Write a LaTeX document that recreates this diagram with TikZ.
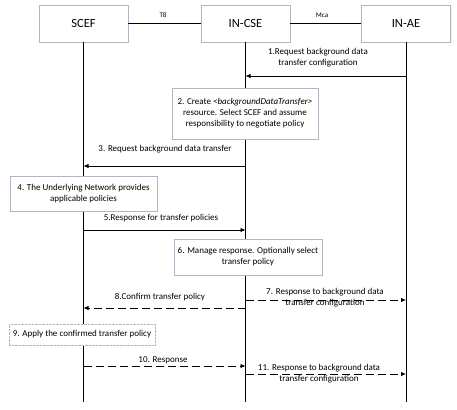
\documentclass[tikz,border=0pt]{standalone}
\usepackage{fontspec}
\setmainfont{Carlito}
\usetikzlibrary{arrows.meta,shadows}
\definecolor{boxgray}{RGB}{175,184,194}
\newcommand{\msgfont}{\fontsize{9}{11}\selectfont}
\tikzset{
	entity/.style={draw=boxgray, fill=white, minimum width=89pt, minimum height=37pt, inner sep=0pt,
		font=\fontsize{12.5}{14}\selectfont, drop shadow={opacity=.12, shadow xshift=1pt, shadow yshift=-1pt}},
	note/.style={draw=boxgray, fill=white, align=center, inner sep=0pt, font=\msgfont,
		drop shadow={opacity=.12, shadow xshift=1pt, shadow yshift=-1pt}},
	lbl/.style={align=center, inner sep=0pt, font=\msgfont},
	msg/.style={-{Latex[length=5pt,width=4.5pt]}, line width=.8pt},
	reply/.style={msg, dash pattern=on 8pt off 4pt}
}
\begin{document}
\begin{tikzpicture}[x=1pt, y=-1pt]
			\useasboundingbox (0,0) rectangle (457,409);

			% header
			\node[entity] (scef) at(83.5, 23.5){SCEF};
			\node[entity] (incse) at(245.5, 23.5){IN-CSE};
			\node[entity] (inae) at(406, 23.5){IN-AE};
				\draw[line width=.8pt] (scef) to (incse);
				\draw[line width=.8pt] (incse) to (inae);
					\node[lbl, font=\fontsize{7}{8}\selectfont] (t8) at(163, 15){T8};
					\node[lbl, font=\fontsize{7}{8}\selectfont] (mca) at(322, 15){Mca};

			% lifelines
			\coordinate (scefend) at(83.5, 402);
			\coordinate (incseend) at(245.5, 402);
			\coordinate (inaeend) at(406, 402);
			\draw[line width=.8pt] (scef) to (scefend);
			\draw[line width=.8pt] (incse) to (incseend);
			\draw[line width=.8pt] (inae) to (inaeend);

			% 1
			\coordinate (m1a) at(406, 76);
			\coordinate (m1b) at(245.5, 76);
				\node[lbl] (l1) at(318, 57.5){1.Request background data\\transfer configuration};
				\draw[msg] (m1a) to (m1b);
			% 2
			\node[note, minimum width=146pt, minimum height=51pt] (n2) at(245, 113.5)
				{2. Create \textit{<backgroundDataTransfer>}\\resource. Select SCEF and assume\\responsibility to negotiate policy};
			% 3
			\coordinate (m3a) at(245.5, 166);
			\coordinate (m3b) at(83.5, 166);
				\node[lbl] (l3) at(165, 149){3. Request background data transfer};
				\draw[msg] (m3a) to (m3b);
			% 4
			\node[note, minimum width=147pt, minimum height=35pt] (n4) at(83.5, 193.5)
				{4. The Underlying Network provides\\applicable policies};
			% 5
			\coordinate (m5a) at(83.5, 230);
			\coordinate (m5b) at(245.5, 230);
				\node[lbl] (l5) at(161, 218){5.Response for transfer policies};
				\draw[msg] (m5a) to (m5b);
			% 6
			\node[note, minimum width=148pt, minimum height=36pt] (n6) at(248, 257)
				{6. Manage response. Optionally select\\transfer policy};
			% 7
			\coordinate (m7a) at(245.5, 300);
			\coordinate (m7b) at(406, 300);
				\node[lbl] (l7) at(325, 298){7. Response to background data\\transfer configuration};
				\draw[reply] (m7a) to (m7b);
			% 8
			\coordinate (m8a) at(245.5, 308);
			\coordinate (m8b) at(83.5, 308);
				\node[lbl] (l8) at(160, 297){8.Confirm transfer policy};
				\draw[reply] (m8a) to (m8b);
			% 9
			\node[note, densely dotted, minimum width=146pt, minimum height=21pt] (n9) at(82, 334.5)
				{9. Apply the confirmed transfer policy};
			% 10
			\coordinate (m10a) at(83.5, 366);
			\coordinate (m10b) at(245.5, 366);
				\node[lbl] (l10) at(163, 360){10. Response};
				\draw[reply] (m10a) to (m10b);
			% 11
			\coordinate (m11a) at(245.5, 374);
			\coordinate (m11b) at(406, 374);
				\node[lbl] (l11) at(319, 373.5){11. Response to background data\\transfer configuration};
				\draw[reply] (m11a) to (m11b);

		\end{tikzpicture}
\end{document}
